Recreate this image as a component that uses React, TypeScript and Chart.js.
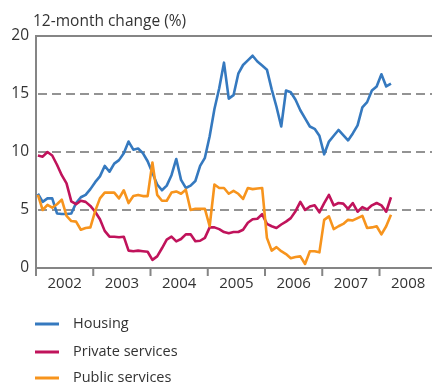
import { useEffect, useRef } from 'react';
import { Chart, registerables } from 'chart.js';

Chart.register(...registerables);

const years = ['2002', '2003', '2004', '2005', '2006', '2007', '2008'];
const seriesNames = ['Housing', 'Private services', 'Public services'];
const seriesColors = ['#3579bf', '#c0135b', '#f7941d'];
const yTickValues = [0, 5, 10, 15, 20];
const dashedGrid = [5, 10, 15];
const yAxisTitle = '12-month change (%)';

// Monthly values, Jan 2002 onwards
const housing = [
  6.4, 5.7, 6.0, 6.0, 4.7, 4.65, 4.65, 4.7, 5.6, 6.1, 6.3, 6.8, 7.4, 7.9, 8.8, 8.3, 9.0, 9.3, 9.9, 10.9,
  10.2, 10.3, 9.9, 9.2, 8.2, 7.2, 6.7, 7.1, 8.0, 9.4,
  7.6, 6.9, 7.1, 7.5, 8.8, 9.5, 11.35, 13.7, 15.5, 17.7,
  14.6, 14.9, 16.75, 17.5, 17.9, 18.3, 17.8, 17.45, 17.1, 15.4,
  13.9, 12.2, 15.3, 15.15, 14.5, 13.6, 12.9, 12.2, 12.0, 11.4,
  9.8, 10.9, 11.4, 11.9, 11.45, 11.0, 11.6, 12.3, 13.85, 14.3,
  15.3, 15.65, 16.7, 15.65, 15.9,
];
const privateServices = [
  9.7, 9.6, 10.0, 9.7, 8.9, 8.0, 7.3, 5.75, 5.5, 5.8, 5.7, 5.35, 4.85, 4.2, 3.2, 2.7, 2.7, 2.65, 2.7, 1.5,
  1.45, 1.5, 1.45, 1.4, 0.7, 1.0, 1.7, 2.45, 2.7, 2.3,
  2.5, 2.9, 2.9, 2.3, 2.35, 2.6, 3.5, 3.5, 3.35, 3.1,
  3.0, 3.1, 3.1, 3.3, 3.9, 4.2, 4.25, 4.65, 3.8, 3.6,
  3.45, 3.75, 4.0, 4.3, 4.9, 5.7, 5.0, 5.3, 5.4, 4.8,
  5.6, 6.3, 5.4, 5.6, 5.55, 5.1, 5.6, 4.85, 5.25, 5.05,
  5.4, 5.6, 5.4, 4.85, 6.1,
];
const publicServices = [
  6.3, 5.0, 5.45, 5.2, 5.5, 5.9, 4.5, 4.05, 4.0, 3.3, 3.45, 3.5, 4.9, 6.0, 6.5, 6.5, 6.5, 6.0, 6.7, 5.6,
  6.2, 6.3, 6.2, 6.2, 9.1, 6.3, 5.8, 5.8, 6.5, 6.6,
  6.4, 6.75, 5.0, 5.1, 5.1, 5.1, 3.6, 7.2, 6.9, 6.9,
  6.4, 6.65, 6.4, 5.95, 6.9, 6.8, 6.85, 6.9, 2.6, 1.5,
  1.8, 1.45, 1.2, 0.85, 0.95, 1.0, 0.35, 1.45, 1.45, 1.35,
  4.15, 4.45, 3.35, 3.6, 3.8, 4.15, 4.1, 4.3, 4.5, 3.45,
  3.5, 3.6, 2.9, 3.6, 4.6,
];

const X_MIN = -0.4;
const X_MAX = 82.6;
const FONT = '"Open Sans", "DejaVu Sans", sans-serif';
const TEXT = '#333333';

const framePlugin = {
  id: 'frame',
  beforeDatasetsDraw(chart: any) {
    const { ctx, chartArea: a, scales } = chart;
    const x = scales.x;
    const y = scales.y;
    ctx.save();
    ctx.strokeStyle = '#707070';
    ctx.lineWidth = 1.5;
    ctx.setLineDash([9, 5]);
    dashedGrid.forEach((v) => {
      const py = y.getPixelForValue(v);
      ctx.beginPath();
      ctx.moveTo(a.left + 2, py);
      ctx.lineTo(a.right, py);
      ctx.stroke();
    });
    ctx.setLineDash([]);
    ctx.strokeStyle = '#858585';
    ctx.lineWidth = 2;
    const top = y.getPixelForValue(20);
    const bottom = y.getPixelForValue(0);
    ctx.beginPath();
    ctx.moveTo(a.left, top);
    ctx.lineTo(a.right, top);
    ctx.moveTo(a.left, bottom);
    ctx.lineTo(a.right, bottom);
    ctx.moveTo(a.left, top - 1);
    ctx.lineTo(a.left, bottom + 8);
    for (let k = 1; k < years.length; k++) {
      const px = x.getPixelForValue(X_MIN + 12 * k);
      ctx.moveTo(px, bottom);
      ctx.lineTo(px, bottom + 8);
    }
    ctx.stroke();
    ctx.fillStyle = TEXT;
    ctx.font = `15px ${FONT}`;
    ctx.textAlign = 'center';
    ctx.textBaseline = 'middle';
    years.forEach((yr, k) => {
      const px = x.getPixelForValue(X_MIN + 12 * k + 6);
      ctx.fillText(yr, px, bottom + 16);
    });
    ctx.restore();
  },
  afterDraw(chart: any) {
    const { ctx } = chart;
    ctx.save();
    ctx.fillStyle = TEXT;
    ctx.font = `15.5px ${FONT}`;
    ctx.textAlign = 'left';
    ctx.textBaseline = 'middle';
    ctx.fillText(yAxisTitle, 33, 22);
    const legendY = [324, 352, 378];
    seriesNames.forEach((name, i) => {
      ctx.strokeStyle = seriesColors[i];
      ctx.lineWidth = 3;
      ctx.beginPath();
      ctx.moveTo(35, legendY[i]);
      ctx.lineTo(59, legendY[i]);
      ctx.stroke();
      ctx.fillStyle = TEXT;
      ctx.font = `14.5px ${FONT}`;
      ctx.fillText(name, 73, legendY[i]);
    });
    ctx.restore();
  },
};

export default function App() {
  const ref = useRef<HTMLCanvasElement | null>(null);
  useEffect(() => {
    if (!ref.current) return;
    const all = [housing, privateServices, publicServices];
    const chart = new Chart(ref.current, {
      type: 'line',
      data: {
        datasets: all.map((arr, i) => ({
          label: seriesNames[i],
          data: arr.map((v, j) => ({ x: j, y: v })),
          borderColor: seriesColors[i],
          backgroundColor: seriesColors[i],
          borderWidth: 2.6,
          pointRadius: 0,
          tension: 0,
          order: 3 - i,
          borderJoinStyle: 'round' as const,
        })),
      },
      options: {
        responsive: false,
        animation: false,
        devicePixelRatio: 1,
        layout: { padding: { top: 36, right: 0, bottom: 115, left: 0 } },
        plugins: { legend: { display: false }, tooltip: { enabled: false } },
        scales: {
          x: { type: 'linear', min: X_MIN, max: X_MAX, display: false },
          y: {
            min: 0,
            max: 20,
            afterFit: (s: any) => { s.width = 36; },
            afterBuildTicks: (s: any) => { s.ticks = yTickValues.map((v) => ({ value: v })); },
            grid: { display: false, drawTicks: false },
            border: { display: false },
            ticks: {
              padding: 7,
              color: TEXT,
              font: { size: 15.5, family: FONT },
            },
          },
        },
      },
      plugins: [framePlugin],
    });
    return () => chart.destroy();
  }, []);
  return (
    <div style={{ position: 'fixed', left: 0, top: 0, width: 432, height: 383, background: '#fff' }}>
      <canvas ref={ref} width={432} height={383} style={{ width: 432, height: 383 }} />
    </div>
  );
}
